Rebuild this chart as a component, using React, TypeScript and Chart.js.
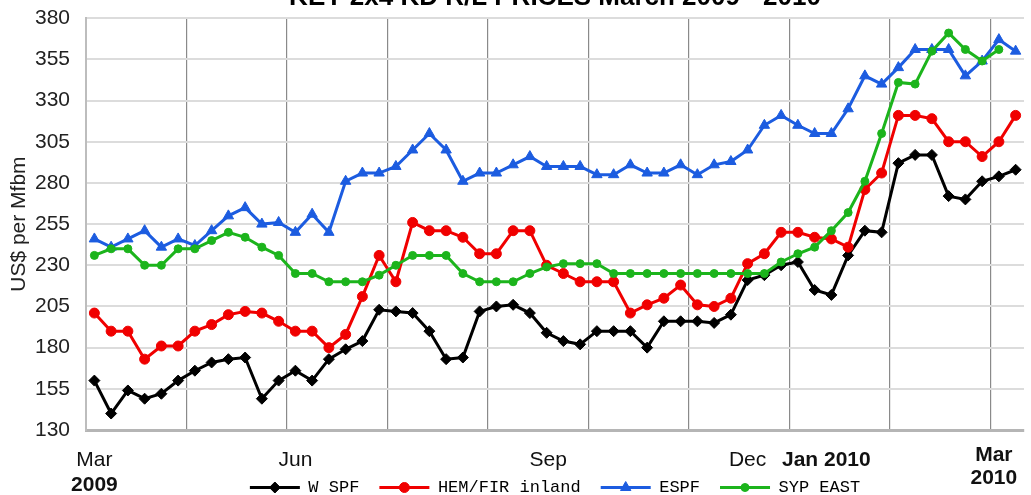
import React, { useEffect, useRef } from 'react';
import { Chart, registerables } from 'chart.js';

Chart.register(...registerables);

// Weekly categories, March 2009 - March 2010
const weeks: string[] = Array.from({ length: 56 }, (_, i) =>
  new Date(Date.UTC(2009, 2, 6 + 7 * i)).toISOString().slice(0, 10)
);

const wSpf = [160, 140, 154, 149, 152, 160, 166, 171, 173, 174, 149, 160, 166, 160, 173, 179, 184, 203, 202, 201,
  190, 173, 174, 202, 205, 206, 201, 189, 184, 182, 190, 190, 190, 180, 196, 196, 196, 195, 200, 221,
  224, 230, 232, 215, 212, 236, 251, 250, 292, 297, 297, 272, 270, 281, 284, 288];

const hemFir = [201, 190, 190, 173, 181, 181, 190, 194, 200, 202, 201, 196, 190, 190, 180, 188, 211, 236, 220, 256,
  251, 251, 247, 237, 237, 251, 251, 230, 225, 220, 220, 220, 201, 206, 210, 218, 206, 205, 210, 231,
  237, 250, 250, 247, 246, 241, 276, 286, 321, 321, 319, 305, 305, 296, 305, 321];

const espf = [246, 241, 246, 251, 241, 246, 242, 251, 260, 265, 255, 256, 250, 261, 250, 281, 286, 286, 290, 300,
  310, 300, 281, 286, 286, 291, 296, 290, 290, 290, 285, 285, 291, 286, 286, 291, 285, 291, 293, 300,
  315, 321, 315, 310, 310, 325, 345, 340, 350, 361, 361, 361, 345, 354, 367, 360];

const sypEast: (number | null)[] = [236, 240, 240, 230, 230, 240, 240, 245, 250, 247, 241, 236, 225, 225, 220, 220, 220, 224, 230, 236,
  236, 236, 225, 220, 220, 220, 225, 229, 231, 231, 231, 225, 225, 225, 225, 225, 225, 225, 225, 225,
  225, 232, 237, 241, 251, 262, 281, 310, 341, 340, 360, 371, 361, 354, 361, null];

const seriesNames = ['W SPF', 'HEM/FIR inland', 'ESPF', 'SYP EAST'];
const seriesColors = ['#000000', '#f00000', '#1c5ce0', '#1cb41c'];

const yMin = 130;
const yMax = 380;
const yStep = 25;

const chartTitle = 'KEY 2x4 KD R/L PRICES March 2009 - 2010';
const yTitle = 'US$ per Mfbm';

// Period labels under the category axis (position in category units)
const periodLabels = [
  { at: 0, lines: [{ text: 'Mar', bold: false, dy: 30 }, { text: '2009', bold: true, dy: 55 }] },
  { at: 12, lines: [{ text: 'Jun', bold: false, dy: 30 }] },
  { at: 27.1, lines: [{ text: 'Sep', bold: false, dy: 30 }] },
  { at: 39, lines: [{ text: 'Dec', bold: false, dy: 30 }] },
  { at: 43.7, lines: [{ text: 'Jan 2010', bold: true, dy: 30 }] },
  { at: 53.7, lines: [{ text: 'Mar', bold: true, dy: 25 }, { text: '2010', bold: true, dy: 48 }] },
];

function drawMarker(ctx: CanvasRenderingContext2D, style: string, r: number, x: number, y: number, color: string) {
  ctx.save();
  ctx.fillStyle = color;
  ctx.strokeStyle = color;
  ctx.lineWidth = 1;
  ctx.beginPath();
  if (style === 'circle') {
    ctx.arc(x, y, r, 0, Math.PI * 2);
  } else if (style === 'triangle') {
    let rad = 0;
    ctx.moveTo(x + Math.sin(rad) * r, y - Math.cos(rad) * r);
    rad += (2 * Math.PI) / 3;
    ctx.lineTo(x + Math.sin(rad) * r, y - Math.cos(rad) * r);
    rad += (2 * Math.PI) / 3;
    ctx.lineTo(x + Math.sin(rad) * r, y - Math.cos(rad) * r);
    ctx.closePath();
  } else {
    ctx.moveTo(x - r, y);
    ctx.lineTo(x, y - r);
    ctx.lineTo(x + r, y);
    ctx.lineTo(x, y + r);
    ctx.closePath();
  }
  ctx.fill();
  ctx.stroke();
  ctx.restore();
}

const extrasPlugin = {
  id: 'extras',
  afterDraw(chart: any) {
    const ctx: CanvasRenderingContext2D = chart.ctx;
    const xScale = chart.scales.x;
    const bottom = chart.chartArea.bottom;
    ctx.save();
    ctx.fillStyle = '#111';
    ctx.textAlign = 'center';
    ctx.textBaseline = 'middle';
    periodLabels.forEach((lbl) => {
      const x = xScale.getPixelForValue(lbl.at);
      lbl.lines.forEach((ln) => {
        ctx.font = `${ln.bold ? 'bold ' : ''}21px "Liberation Sans", Arial, sans-serif`;
        ctx.fillText(ln.text, x, bottom + ln.dy);
      });
    });
    ctx.restore();
    const legend = chart.legend;
    if (legend && legend.legendHitBoxes) {
      legend.legendHitBoxes.forEach((hb: any, i: number) => {
        const item = legend.legendItems[i];
        const ds = chart.data.datasets[item.datasetIndex];
        drawMarker(ctx, ds.pointStyle, ds.pointRadius, hb.left + 25, hb.top + hb.height / 2, ds.borderColor);
      });
    }
  },
};

export default function App() {
  const ref = useRef<HTMLCanvasElement | null>(null);
  useEffect(() => {
    if (!ref.current) return;
    Chart.defaults.font.family = '"Liberation Sans", Arial, sans-serif';
    const mk = (i: number, data: (number | null)[], style: string, radius: number, order: number) => ({
      label: seriesNames[i],
      data,
      borderColor: seriesColors[i],
      backgroundColor: seriesColors[i],
      pointBackgroundColor: seriesColors[i],
      pointBorderColor: seriesColors[i],
      pointStyle: style,
      pointRadius: radius,
      pointBorderWidth: 1,
      borderWidth: 3,
      tension: 0,
      order,
    });
    const chart = new Chart(ref.current, {
      type: 'line',
      data: {
        labels: weeks,
        datasets: [
          mk(0, wSpf, 'rectRot', 5.5, 3),
          mk(1, hemFir, 'circle', 5, 2),
          mk(2, espf, 'triangle', 6, 1),
          mk(3, sypEast, 'circle', 4, 0),
        ] as any,
      },
      options: {
        animation: false,
        responsive: true,
        maintainAspectRatio: false,
        events: [],
        layout: { padding: { left: 0, right: 5, top: 0, bottom: 0 } },
        scales: {
          x: {
            type: 'category',
            offset: true,
            ticks: { display: false, autoSkip: false },
            grid: {
              offset: true,
              drawTicks: false,
              color: (c: any) => (c.index > 0 && c.index % 6 === 0 ? '#8a8a8a' : 'rgba(0,0,0,0)'),
              lineWidth: 1.2,
            },
            border: { display: true, color: '#b5b5b5', width: 3 },
            afterFit: (s: any) => { s.height = 29; },
          },
          y: {
            min: yMin,
            max: yMax,
            ticks: { stepSize: yStep, padding: 16, color: '#222', font: { size: 21 } },
            grid: { color: '#dcdcdc', lineWidth: 2, drawTicks: false },
            border: { display: true, color: '#bdbdbd', width: 2 },
            title: { display: true, text: yTitle, color: '#222', font: { size: 21 }, padding: { top: 7, bottom: 0 } },
            afterFit: (s: any) => { s.width = 86; },
          },
        },
        plugins: {
          tooltip: { enabled: false },
          title: {
            display: true,
            text: chartTitle,
            fullSize: false,
            color: '#000',
            font: { size: 26, weight: 'bold' },
            padding: { top: 0, bottom: 5 },
          },
          legend: {
            display: true,
            position: 'bottom',
            fullSize: false,
            labels: {
              boxWidth: 50,
              boxHeight: 3,
              padding: 20,
              color: '#000',
              font: { family: '"Liberation Mono", "Courier New", monospace', size: 17 },
              sort: (a: any, b: any) => a.datasetIndex - b.datasetIndex,
              generateLabels: (ch: any) =>
                Chart.defaults.plugins.legend.labels.generateLabels(ch).map((it: any) => ({ ...it, lineWidth: 0 })),
            },
          },
        },
      } as any,
      plugins: [extrasPlugin],
    });
    return () => chart.destroy();
  }, []);
  return (
    <div style={{ position: 'fixed', left: 0, top: -18, width: 1031, height: 524 }}>
      <canvas ref={ref} />
    </div>
  );
}
